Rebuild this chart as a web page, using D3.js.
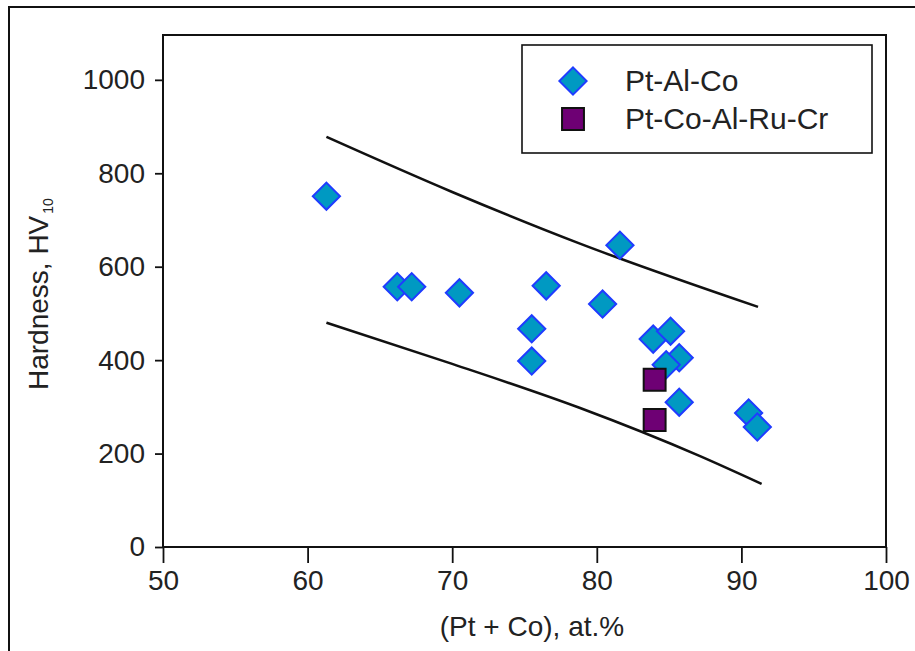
<!DOCTYPE html>
<html>
<head>
<meta charset="utf-8">
<script src="https://cdn.jsdelivr.net/npm/d3@7"></script>
<style>
  body { margin: 0; background: #fff; }
  svg { display: block; font-family: "Liberation Sans", Arial, sans-serif; }
</style>
</head>
<body>
<svg id="chart" width="915" height="651"></svg>
<script>
// (Pt + Co) at.% and hardness HV10
const ptAlCoX = [61.3, 66.2, 67.2, 70.5, 76.5, 75.5, 75.5, 80.4, 81.6, 83.9, 85.1, 85.7, 84.8, 85.7, 90.5, 91.1]
const ptAlCoY = [751, 557, 557, 544, 559, 467, 398, 520, 646, 445, 462, 405, 390, 310, 287, 257]
const ptCoAlRuCrX = [84.0, 84.0]
const ptCoAlRuCrY = [358, 272]

// scatter band bounds
const upperX = [61.3, 70, 78.7, 91.15]
const upperY = [878, 760, 651, 514]
const lowerX = [61.3, 70, 78.8, 87.1, 91.4]
const lowerY = [480, 392, 298, 195, 135]

const xTicks = [50, 60, 70, 80, 90, 100]
const yTicks = [0, 200, 400, 600, 800, 1000]
const seriesNames = ['Pt-Al-Co', 'Pt-Co-Al-Ru-Cr']

const margin = {top: 35, right: 29, bottom: 104, left: 163}
const svg = d3.select('#chart')
const width = +svg.attr('width')
const height = +svg.attr('height')

const x = d3.scaleLinear().domain([50, 100]).range([margin.left, width - margin.right])
const y = d3.scaleLinear().domain([0, 1096]).range([height - margin.bottom, margin.top])

// outer figure frame (right/bottom run off the picture)
svg.append('rect')
    .attr('x', 9).attr('y', 7)
    .attr('width', width + 20).attr('height', height + 20)
    .attr('fill', 'none').attr('stroke', '#111').attr('stroke-width', 2)

svg.append('g')
    .attr('transform', `translate(0,${y(0)})`)
    .call(d3.axisBottom(x).tickValues(xTicks).tickFormat(d3.format('d')).tickSize(16).tickPadding(7).tickSizeOuter(0))
    .call(g => g.select('.domain').remove())
    .call(g => g.selectAll('line').attr('stroke', '#111').attr('stroke-width', 1.8))
    .call(g => g.selectAll('text').attr('font-size', 28).attr('fill', '#222').attr('font-family', null))

svg.append('g')
    .attr('transform', `translate(${margin.left},0)`)
    .call(d3.axisLeft(y).tickValues(yTicks).tickFormat(d3.format('d')).tickSize(8).tickPadding(10).tickSizeOuter(0))
    .call(g => g.select('.domain').remove())
    .call(g => g.selectAll('line').attr('stroke', '#111').attr('stroke-width', 1.8))
    .call(g => g.selectAll('text').attr('font-size', 28).attr('fill', '#222').attr('font-family', null))

// plot frame
svg.append('rect')
    .attr('x', x(50)).attr('y', margin.top)
    .attr('width', x(100) - x(50)).attr('height', y(0) - margin.top)
    .attr('fill', 'none').attr('stroke', '#111').attr('stroke-width', 2)

const line = d3.line().x(d => x(d[0])).y(d => y(d[1])).curve(d3.curveMonotoneX)
const bands = [d3.zip(upperX, upperY), d3.zip(lowerX, lowerY)]
svg.append('g')
    .selectAll('path')
    .data(bands)
    .enter().append('path')
    .attr('d', line)
    .attr('fill', 'none')
    .attr('stroke', '#111')
    .attr('stroke-width', 2.6)

const diamond = d3.symbol().type(d3.symbolSquare).size(370)
const square = d3.symbol().type(d3.symbolSquare).size(480)

svg.append('g')
    .selectAll('path')
    .data(d3.zip(ptAlCoX, ptAlCoY))
    .enter().append('path')
    .attr('d', diamond)
    .attr('transform', d => `translate(${x(d[0])},${y(d[1])}) rotate(45)`)
    .attr('fill', '#0099c2')
    .attr('stroke', '#1f3cff')
    .attr('stroke-width', 2)

svg.append('g')
    .selectAll('path')
    .data(d3.zip(ptCoAlRuCrX, ptCoAlRuCrY))
    .enter().append('path')
    .attr('d', square)
    .attr('transform', d => `translate(${x(d[0])},${y(d[1])})`)
    .attr('fill', '#6e0074')
    .attr('stroke', '#111')
    .attr('stroke-width', 2)

// axis titles
svg.append('text')
    .attr('x', 532).attr('y', 636)
    .attr('text-anchor', 'middle')
    .attr('font-size', 28).attr('fill', '#222')
    .text('(Pt + Co), at.%')

const yTitle = svg.append('text')
    .attr('transform', 'translate(48,390) rotate(-90)')
    .attr('font-size', 28).attr('fill', '#222')
yTitle.append('tspan').text('Hardness, HV')
yTitle.append('tspan').attr('font-size', 14).attr('dy', 5).attr('dx', 2).text('10')

// legend
const legend = svg.append('g')
legend.append('rect')
    .attr('x', 522).attr('y', 45).attr('width', 350).attr('height', 108)
    .attr('fill', '#fff').attr('stroke', '#111').attr('stroke-width', 1.6)

legend.append('path')
    .attr('d', diamond)
    .attr('transform', 'translate(573,81) rotate(45)')
    .attr('fill', '#0099c2').attr('stroke', '#1f3cff').attr('stroke-width', 2)
legend.append('path')
    .attr('d', square)
    .attr('transform', 'translate(573,119)')
    .attr('fill', '#6e0074').attr('stroke', '#111').attr('stroke-width', 2)

legend.selectAll('text')
    .data(seriesNames)
    .enter().append('text')
    .attr('x', 625)
    .attr('y', (d, i) => 91 + i * 38)
    .attr('font-size', 30).attr('fill', '#222')
    .text(d => d)
</script>
</body>
</html>
